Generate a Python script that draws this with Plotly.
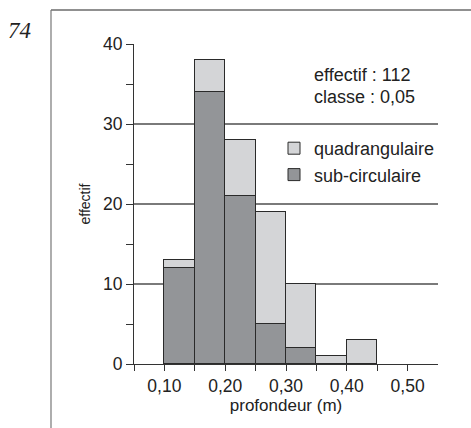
import plotly.graph_objects as go

# Data
bin_left = [0.10, 0.15, 0.20, 0.25, 0.30, 0.35, 0.40]
bin_width = 0.05
sub_circulaire = [12, 34, 21, 5, 2, 0, 0]
quadrangulaire = [1, 4, 7, 14, 8, 1, 3]
x_tick_vals = [0.10, 0.20, 0.30, 0.40, 0.50]
x_tick_text = ["0,10", "0,20", "0,30", "0,40", "0,50"]
y_tick_vals = [0, 10, 20, 30, 40]

centers = [b + bin_width / 2 for b in bin_left]
FONT = "Liberation Sans"

fig = go.Figure()
fig.add_trace(go.Bar(
    x=centers, y=[v if v else None for v in sub_circulaire], width=bin_width,
    name="sub-circulaire", legendgroup="s",
    marker=dict(color="#939598", line=dict(color="#2a2a2a", width=1)),
))
fig.add_trace(go.Bar(
    x=centers, y=quadrangulaire, width=bin_width,
    name="quadrangulaire", legendgroup="q",
    marker=dict(color="#d4d5d7", line=dict(color="#2a2a2a", width=1)),
))

L, R, T, B = 134, 33, 44, 64
W, H = 471, 428
pw, ph = W - L - R, H - T - B

def px(x):
    return (x - L) / pw

def py(y):
    return (H - B - y) / ph

fig.update_layout(
    width=W, height=H,
    margin=dict(l=L, r=R, t=T, b=B, pad=0),
    barmode="stack", bargap=0,
    plot_bgcolor="white", paper_bgcolor="white",
    font=dict(family=FONT, size=17, color="#222"),
    showlegend=True,
    legend=dict(
        x=px(274), y=py(130), xanchor="left", yanchor="top",
        traceorder="reversed", tracegroupgap=1,
        font=dict(size=18, color="#222"), bgcolor="rgba(0,0,0,0)",
    ),
    xaxis=dict(
        range=[0.05, 0.55], tickvals=x_tick_vals, ticktext=x_tick_text,
        ticks="outside", ticklen=6, tickcolor="#333", tickwidth=1,
        minor=dict(tickmode="array", tickvals=[0.05, 0.15, 0.25, 0.35, 0.45],
                   ticks="outside", ticklen=6, tickcolor="#333", tickwidth=1, showgrid=False),
        showline=True, linecolor="#333", linewidth=1, showgrid=False, zeroline=False,
        title=dict(text="profondeur (m)", font=dict(size=17, color="#222"), standoff=2),
        tickfont=dict(size=17.5, color="#222"),
    ),
    yaxis=dict(
        range=[0, 40], tickvals=y_tick_vals,
        ticks="outside", ticklen=7, tickcolor="#333", tickwidth=1,
        minor=dict(tickmode="array", tickvals=[5, 15, 25, 35],
                   ticks="outside", ticklen=7, tickcolor="#333", tickwidth=1, showgrid=False),
        showline=True, linecolor="#333", linewidth=1,
        showgrid=True, gridcolor="#7a7a7a", gridwidth=1.5, zeroline=False,
        title=dict(text="effectif", font=dict(size=14, color="#222"), standoff=9),
        tickfont=dict(size=17.5, color="#222"),
    ),
    shapes=[
        dict(type="line", xref="paper", yref="paper", x0=px(51), x1=px(471), y0=py(10), y1=py(10),
             line=dict(color="#222", width=1.2)),
        dict(type="line", xref="paper", yref="paper", x0=px(51), x1=px(51), y0=py(10), y1=py(428),
             line=dict(color="#777", width=1.2)),
    ],
    annotations=[
        dict(text="<i>74</i>", xref="paper", yref="paper", x=px(6), y=py(30), xanchor="left", yanchor="middle",
             showarrow=False, font=dict(family="Liberation Serif", size=23, color="#222")),
        dict(text="effectif : 112", xref="paper", yref="paper", x=px(312), y=py(75), xanchor="left",
             yanchor="middle", showarrow=False, font=dict(size=18, color="#222")),
        dict(text="classe : 0,05", xref="paper", yref="paper", x=px(312), y=py(97), xanchor="left",
             yanchor="middle", showarrow=False, font=dict(size=18, color="#222")),
    ],
)

fig.write_html("out.html", config={"displayModeBar": False},
               post_script="document.body.style.margin='0';")
